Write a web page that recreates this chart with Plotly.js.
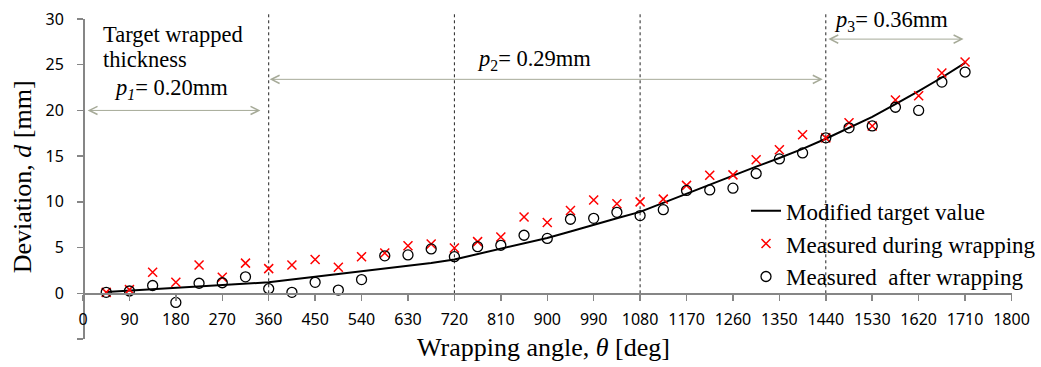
<!DOCTYPE html>
<html>
<head>
<meta charset="utf-8">
<script src="https://cdn.plot.ly/plotly-3.0.1.min.js"></script>
<style>html,body{margin:0;padding:0;background:#fff;}#chart{width:1041px;height:367px;}</style>
</head>
<body>
<div id="chart"></div>
<script>
// Wrapping angle (deg)
const angles = [45,90,135,180,225,270,315,360,405,450,495,540,585,630,675,720,765,810,855,900,945,990,1035,1080,1125,1170,1215,1260,1305,1350,1395,1440,1485,1530,1575,1620,1665,1710];
// Modified target value (mm)
const targetValue = [0.15,0.3,0.45,0.6,0.75,0.9,1.05,1.2,1.5,1.8,2.1,2.4,2.7,3.0,3.3,3.7,4.3,4.9,5.45,6.05,6.75,7.5,8.2,8.9,9.9,10.9,11.9,12.9,13.85,14.8,15.8,16.9,18.1,19.3,20.7,22.1,23.6,25.2];
// Measured during wrapping (mm)
const duringWrapping = [0.1,0.4,2.3,1.2,3.1,1.75,3.3,2.7,3.1,3.7,2.85,4.0,4.4,5.2,5.4,4.95,5.65,6.15,8.35,7.75,9.05,10.2,9.8,10.0,10.3,11.8,12.9,12.95,14.6,15.7,17.35,17.0,18.65,18.3,21.15,21.6,24.1,25.3];
// Measured after wrapping (mm)
const afterWrapping = [0.1,0.25,0.85,-1.0,1.1,1.15,1.8,0.5,0.1,1.2,0.35,1.5,4.1,4.2,4.85,4.0,5.1,5.25,6.35,6.0,8.1,8.2,8.85,8.5,9.15,11.25,11.3,11.5,13.1,14.7,15.35,17.0,18.1,18.3,20.35,20.0,23.1,24.2];

const xTicks = [0,90,180,270,360,450,540,630,720,810,900,990,1080,1170,1260,1350,1440,1530,1620,1710,1800];
const yTicks = [-5,0,5,10,15,20,25,30];
const yTickText = ['','0','5','10','15','20','25','30'];
const sectionBounds = [360,720,1080,1440];

const serif = 'Liberation Serif, Times New Roman, serif';
const sans = 'Noto Sans, Open Sans, sans-serif';
const arrowColor = '#a6aa98';

const traces = [
  {x: angles, y: targetValue, name: 'Modified target value', type: 'scatter', mode: 'lines',
   line: {color: '#000', width: 2}},
  {x: angles, y: duringWrapping, name: 'Measured during wrapping', type: 'scatter', mode: 'markers',
   marker: {symbol: 'x-thin-open', size: 9, color: '#ff0000', line: {color: '#ff0000', width: 1.5}}},
  {x: angles, y: afterWrapping, name: 'Measured  after wrapping', type: 'scatter', mode: 'markers',
   marker: {symbol: 'circle-open', size: 10, color: '#000', line: {color: '#000', width: 1.3}}}
];

const yZeroFrac = 5 / 35;
const shapes = sectionBounds.map(b => ({
  type: 'line', xref: 'x', yref: 'paper', x0: b, x1: b, y0: yZeroFrac, y1: 1.016,
  line: {color: '#222', width: 1, dash: 'dot'}, layer: 'below'
}));

function arrow(x0, x1, y) {
  return {xref: 'x', yref: 'y', axref: 'x', ayref: 'y', x: x1, y: y, ax: x0, ay: y, text: '',
    showarrow: true, arrowside: 'end+start', arrowhead: 5, startarrowhead: 5,
    arrowsize: 1.6, startarrowsize: 1.6, arrowwidth: 1, arrowcolor: arrowColor, standoff: 0, startstandoff: 0};
}
function label(text, x, y, size) {
  return {xref: 'x', yref: 'y', x: x, y: y, text: text, showarrow: false, xanchor: 'left', yanchor: 'middle',
    font: {family: serif, size: size, color: '#000'}};
}

const annotations = [
  label('Target wrapped', 34, 28.28, 22.5),
  label('thickness', 34, 25.55, 22.5),
  label('<i>p<sub>1</sub></i>= 0.20mm', 56, 22.35, 22.5),
  label('<i>p</i><sub>2</sub>= 0.29mm', 760, 25.55, 22.5),
  label('<i>p</i><sub>3</sub>= 0.36mm', 1452, 29.75, 22.5),
  arrow(6, 344, 20.0),
  arrow(359, 1434, 23.4),
  arrow(1442, 1707, 27.8),
  {xref: 'paper', yref: 'paper', x: 0.4812, y: -0.0265, text: 'Wrapping angle, <i>θ</i> [deg]', showarrow: false,
   xanchor: 'center', yanchor: 'middle', font: {family: serif, size: 26, color: '#000'}},
  {xref: 'paper', yref: 'paper', x: -0.0637, y: 0.5086, text: 'Deviation, <i>d</i> [mm]', showarrow: false,
   textangle: -90, xanchor: 'center', yanchor: 'middle', font: {family: serif, size: 26, color: '#000'}}
];

const layout = {
  width: 1041, height: 367,
  margin: {l: 83, r: 0, t: 19, b: 27.5, pad: 0},
  paper_bgcolor: '#fff', plot_bgcolor: '#fff',
  showlegend: true,
  legend: {x: 1, y: 0.468, xanchor: 'right', yanchor: 'top', bgcolor: 'rgba(0,0,0,0)',
    font: {family: serif, size: 23, color: '#000'}, tracegroupgap: 0, itemwidth: 30},
  xaxis: {domain: [0, 0.96921], range: [0, 1800], tickvals: xTicks, ticktext: xTicks.map(String), showgrid: false, zeroline: false,
    showline: true, linecolor: '#868686', linewidth: 1.5, ticks: 'outside', ticklen: 6, tickcolor: '#868686', tickwidth: 1.5,
    anchor: 'free', position: yZeroFrac, tickfont: {family: sans, size: 16, color: '#000'}, ticklabelstandoff: 5},
  yaxis: {range: [-5, 30], tickvals: yTicks, ticktext: yTickText, showgrid: false, zeroline: false,
    anchor: 'free', position: 0,
    showline: true, linecolor: '#868686', linewidth: 1.5, ticks: 'outside', ticklen: 6, tickcolor: '#868686', tickwidth: 1.5,
    tickfont: {family: sans, size: 16, color: '#000'}, ticklabelstandoff: 10},
  shapes: shapes,
  annotations: annotations
};

Plotly.newPlot('chart', traces, layout, {staticPlot: true, displayModeBar: false});
</script>
</body>
</html>
